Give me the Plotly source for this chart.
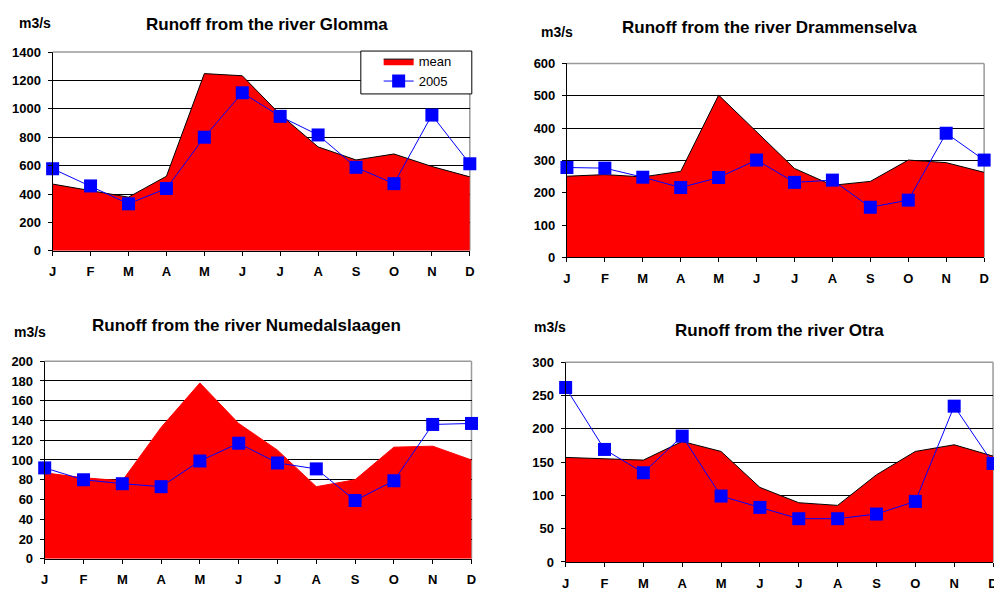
import plotly.graph_objects as go

months = ["J", "F", "M", "A", "M", "J", "J", "A", "S", "O", "N", "D"]

glomma_mean = [470, 425, 378, 525, 1248, 1233, 960, 732, 640, 682, 594, 521]
glomma_2005 = [578, 457, 331, 439, 800, 1113, 947, 816, 588, 473, 956, 613]

dramm_mean = [251, 256, 249, 266, 502, 387, 275, 223, 235, 301, 293, 263]
dramm_2005 = [278, 276, 248, 216, 247, 301, 232, 239, 155, 177, 384, 301]

numed_mean = [87, 82, 79, 133, 178, 137, 110, 73, 80, 113, 114, 100]
numed_2005 = [92, 80, 76, 73, 99, 117, 97, 91, 59, 79, 136, 137]

otra_mean = [157, 155, 153, 181, 166, 112, 89, 85, 131, 166, 176, 159]
otra_2005 = [262, 169, 134, 189, 99, 82, 65, 65, 72, 91, 234, 148]

OFF = 8  # default page body margin
W, H = 1002 - OFF, 596 - OFF
FONT = "Liberation Sans"


def fx(p):
    return (p - OFF) / W


def fy(p):
    return 1 - (p - OFF) / H


panels = [
    dict(title="Runoff from the river Glomma", mean=glomma_mean, y05=glomma_2005,
         ymax=1400, dtick=200, box=(49, 470, 46, 250), tpos=(265, 18), upos=(13, 16),
         outline="black"),
    dict(title="Runoff from the river Drammenselva", mean=dramm_mean, y05=dramm_2005,
         ymax=600, dtick=100, box=(568, 989, 57.7, 256.7), tpos=(772, 21), upos=(540, 25),
         outline="black"),
    dict(title="Runoff from the river Numedalslaagen", mean=numed_mean, y05=numed_2005,
         ymax=200, dtick=20, box=(41, 471.7, 363.3, 566), tpos=(245, 327), upos=(8, 333),
         outline="#FF0000"),
    dict(title="Runoff from the river Otra", mean=otra_mean, y05=otra_2005,
         ymax=300, dtick=50, box=(566.7, 998, 364.3, 569.3), tpos=(783, 332), upos=(533, 328),
         outline="black"),
]

fig = go.Figure()
annotations = []
shapes = []
xvals = list(range(12))

for i, p in enumerate(panels):
    n = "" if i == 0 else str(i + 1)
    xa, ya = "x" + n, "y" + n
    fig.add_trace(go.Scatter(
        x=xvals, y=p["mean"], xaxis=xa, yaxis=ya, name="mean",
        mode="lines", fill="tozeroy", fillcolor="#FF0000",
        line=dict(color=p["outline"], width=1), showlegend=(i == 0),
        hoverinfo="skip"))
    fig.add_trace(go.Scatter(
        x=xvals, y=p["y05"], xaxis=xa, yaxis=ya, name="2005",
        mode="lines+markers", line=dict(color="#0000FF", width=1),
        marker=dict(symbol="square", size=13, color="#0000FF"),
        cliponaxis=False, showlegend=(i == 0)))
    x0, x1, y0, y1 = p["box"]
    fig.update_layout(**{
        "xaxis" + n: dict(domain=[fx(x0), fx(x1)], anchor=ya, range=[0, 11],
                          tickvals=xvals, ticktext=months, ticks="outside", ticklen=4,
                          tickcolor="black", showline=True, linecolor="black",
                          showgrid=False, zeroline=False, fixedrange=True,
                          ticklabelstandoff=5,
                          tickfont=dict(family=FONT, size=13, color="black", weight="bold")),
        "yaxis" + n: dict(domain=[fy(y1), fy(y0)], anchor=xa, range=[0, p["ymax"]],
                          dtick=p["dtick"], ticks="outside", ticklen=4, tickcolor="black",
                          showline=True, linecolor="black", showgrid=True,
                          gridcolor="black", gridwidth=1, zeroline=False, fixedrange=True,
                          ticklabelstandoff=4,
                          tickfont=dict(family=FONT, size=13, color="black", weight="bold")),
    })
    # grey right border (below the traces) and grey top border
    shapes.append(dict(type="line", xref=xa + " domain", yref=ya + " domain",
                       x0=1, x1=1, y0=0, y1=1, line=dict(color="#9a9a9a", width=1.5),
                       layer="below"))
    shapes.append(dict(type="line", xref=xa + " domain", yref=ya + " domain",
                       x0=0, x1=1, y0=1, y1=1, line=dict(color="#9a9a9a", width=1.5),
                       layer="above"))
    annotations.append(dict(text=p["title"], x=fx(p["tpos"][0]), y=fy(p["tpos"][1]),
                            xref="paper", yref="paper", xanchor="center", yanchor="middle",
                            showarrow=False,
                            font=dict(family=FONT, size=17, color="black", weight="bold")))
    annotations.append(dict(text="m3/s", x=fx(p["upos"][0]), y=fy(p["upos"][1]),
                            xref="paper", yref="paper", xanchor="left", yanchor="middle",
                            showarrow=False,
                            font=dict(family=FONT, size=14, color="black", weight="bold")))

# legend frame
shapes.append(dict(type="rect", xref="paper", yref="paper",
                   x0=fx(360), x1=fx(472), y0=fy(89), y1=fy(45),
                   fillcolor="white", line=dict(color="black", width=1), layer="above"))

fig.update_layout(
    width=W, height=H, margin=dict(l=0, r=0, t=0, b=0),
    paper_bgcolor="white", plot_bgcolor="white",
    annotations=annotations, shapes=shapes,
    legend=dict(x=fx(378), y=fy(40), xanchor="left", yanchor="top",
                bgcolor="rgba(0,0,0,0)", borderwidth=0,
                font=dict(family=FONT, size=13, color="black"),
                tracegroupgap=0),
    font=dict(family=FONT),
)

fig.write_html("out.html")
